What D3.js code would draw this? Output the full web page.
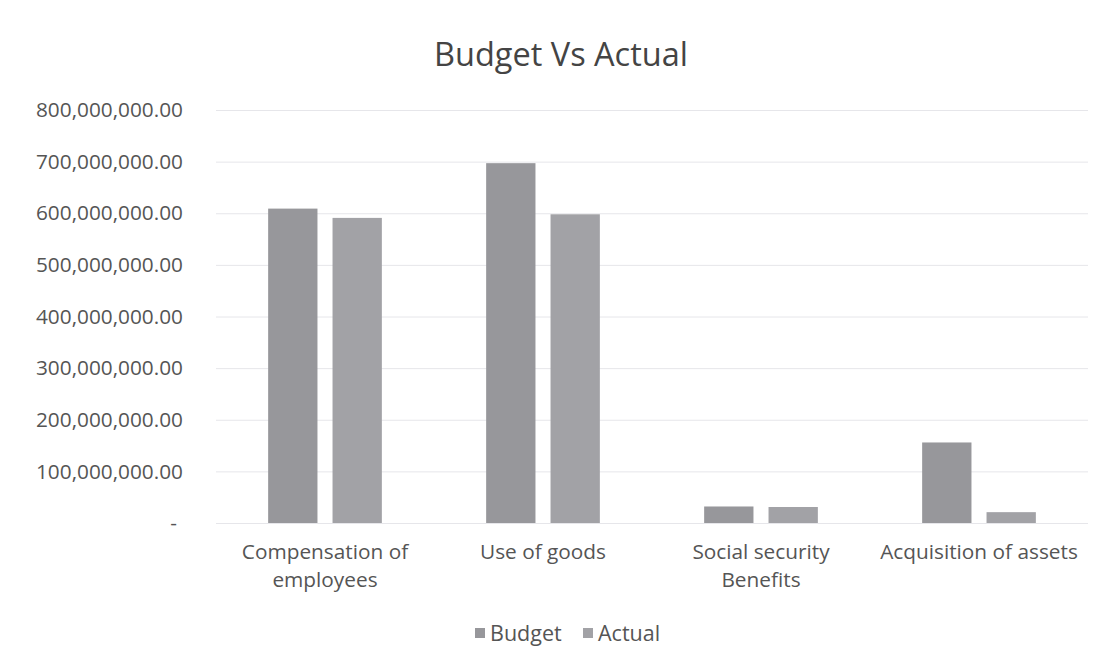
<!DOCTYPE html>
<html><head><meta charset="utf-8">
<script src="https://cdn.jsdelivr.net/npm/d3@7"></script>
<style>body{margin:0;background:#fff}svg{display:block}</style>
</head><body>
<svg id="c" width="1104" height="669"></svg>
<script>
const categories = [["Compensation of","employees"],["Use of goods"],["Social security","Benefits"],["Acquisition of assets"]];
const seriesNames = ["Budget","Actual"];
const budget = [609000000, 697000000, 32000000, 156000000];
const actual = [591000000, 598000000, 31000000, 21000000];
const yTicks = [0,100000000,200000000,300000000,400000000,500000000,600000000,700000000,800000000];
const colors = ["#97979b","#a2a2a6"];

const svg = d3.select("#c");
const font = "'Open Sans', sans-serif";
const textColor = "#555";
const m = {left:216, right:1088, top:110, bottom:523};

const x0 = d3.scaleBand().domain(d3.range(categories.length)).range([m.left, m.right]);
const x1 = d3.scaleBand().domain(seriesNames).range([0, x0.bandwidth()]).paddingInner(0.234).paddingOuter(0.81);
const y = d3.scaleLinear().domain([0, 800000000]).range([m.bottom, m.top]);

svg.append("text").attr("x",561).attr("y",66).attr("text-anchor","middle")
  .attr("font-family",font).attr("font-size",32.5).attr("fill","#444").text("Budget Vs Actual");

const fmt = d3.format(",.2f");
const yAxis = svg.append("g").attr("transform",`translate(${m.left},0)`)
  .call(d3.axisLeft(y).tickValues(yTicks).tickSize(-(m.right-m.left)).tickPadding(33)
    .tickFormat(d => d===0 ? "-" : fmt(d)));
yAxis.select(".domain").remove();
yAxis.selectAll(".tick line").attr("stroke","#e6e6ea").attr("stroke-width",1);
yAxis.selectAll(".tick text").attr("font-family",font).attr("font-size",20.8).attr("fill",textColor);
yAxis.selectAll(".tick").filter(d=>d===0).select("text").attr("dx",-6);

const data = categories.map((c,i)=>({i, vals:[budget[i], actual[i]]}));
const g = svg.append("g");
g.selectAll("g.cat").data(data).join("g").attr("class","cat")
  .attr("transform",d=>`translate(${x0(d.i)},0)`)
  .selectAll("rect").data(d=>d.vals.map((v,k)=>({k,v}))).join("rect")
  .attr("x",d=>x1(seriesNames[d.k])).attr("width",x1.bandwidth())
  .attr("y",d=>y(d.v)).attr("height",d=>y(0)-y(d.v)).attr("fill",d=>colors[d.k]);

const xl = svg.append("g");
categories.forEach((lines,i)=>{
  const t = xl.append("text").attr("x",x0(i)+x0.bandwidth()/2).attr("y",559)
    .attr("text-anchor","middle").attr("font-family",font).attr("font-size",20.8).attr("fill",textColor);
  lines.forEach((l,j)=>t.append("tspan").attr("x",x0(i)+x0.bandwidth()/2).attr("dy",j?28:0).text(l));
});

const leg = svg.append("g");
const lx = [475, 583];
seriesNames.forEach((s,k)=>{
  leg.append("rect").attr("x",lx[k]).attr("y",628).attr("width",10).attr("height",10).attr("fill",colors[k]);
  leg.append("text").attr("x",lx[k]+15).attr("y",641).attr("font-family",font).attr("font-size",21.5)
    .attr("fill",textColor).text(s);
});
</script>
</body></html>
